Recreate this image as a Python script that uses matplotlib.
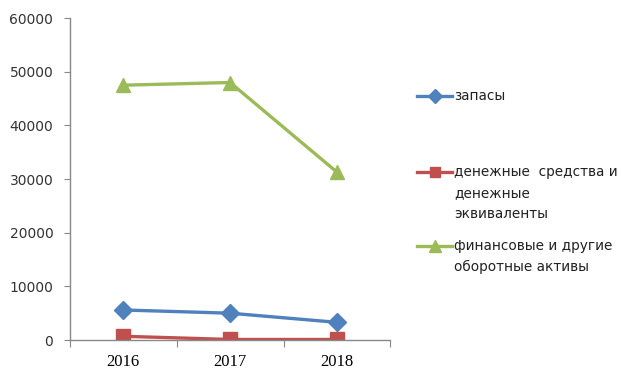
import matplotlib.pyplot as plt
from matplotlib.lines import Line2D

years = ["2016", "2017", "2018"]
zapasy = [5600, 5000, 3300]
den_sredstva = [700, 100, 100]
fin_aktivy = [47500, 48000, 31300]
y_ticks = [0, 10000, 20000, 30000, 40000, 50000, 60000]

series = [
    (zapasy, "#4F81BD", "D", 9, ["запасы"]),
    (den_sredstva, "#C0504D", "s", 9.5, ["денежные  средства и", "денежные", "эквиваленты"]),
    (fin_aktivy, "#9BBB59", "^", 10, ["финансовые и другие", "оборотные активы"]),
]

fig = plt.figure(figsize=(6.22, 3.7), dpi=100)
ax = fig.add_axes([0.1125, 0.081, 0.515, 0.870])

x = list(range(len(years)))
for vals, color, marker, ms, label in series:
    ax.plot(x, vals, color=color, lw=2.4, marker=marker, ms=ms, mec=color, mfc=color)

ax.set_xlim(-0.5, len(years) - 0.5)
ax.set_ylim(0, 60000)
ax.set_yticks(y_ticks)
ax.set_yticklabels([str(t) for t in y_ticks], fontsize=10, color="#333333", family="DejaVu Sans")

# category ticks sit between the categories, labels in the middle
ax.set_xticks([i - 0.5 for i in range(len(years) + 1)])
ax.set_xticklabels([])
ax.set_xticks(x, minor=True)
ax.set_xticklabels(years, minor=True, fontsize=12, family="Liberation Serif")
ax.tick_params(axis="x", which="minor", length=0, pad=10)
ax.tick_params(axis="x", which="major", length=5, color="#888888")
ax.tick_params(axis="y", length=4, color="#888888", pad=8)

for s in ["top", "right"]:
    ax.spines[s].set_visible(False)
for s in ["left", "bottom"]:
    ax.spines[s].set_color("#888888")
    ax.spines[s].set_linewidth(1)

# legend on the right, drawn by hand so the marker sits on the first line
W, H = 622, 370
legend_rows = [96, 172, 246]
for (vals, color, marker, ms, label), ypix in zip(series, legend_rows):
    yf = 1 - ypix / H
    fig.add_artist(Line2D([417 / W, 452 / W], [yf, yf], color=color, lw=2.4,
                          transform=fig.transFigure))
    fig.add_artist(Line2D([434.5 / W], [yf], color=color, marker=marker, ms=ms - 2,
                          mec=color, mfc=color, transform=fig.transFigure))
    for k, line in enumerate(label):
        fig.text(454 / W, 1 - (ypix + k * 21) / H, line, fontsize=9.8,
                 color="#222222", va="center", ha="left", family="DejaVu Sans")

fig.savefig("out.png", dpi=100)
